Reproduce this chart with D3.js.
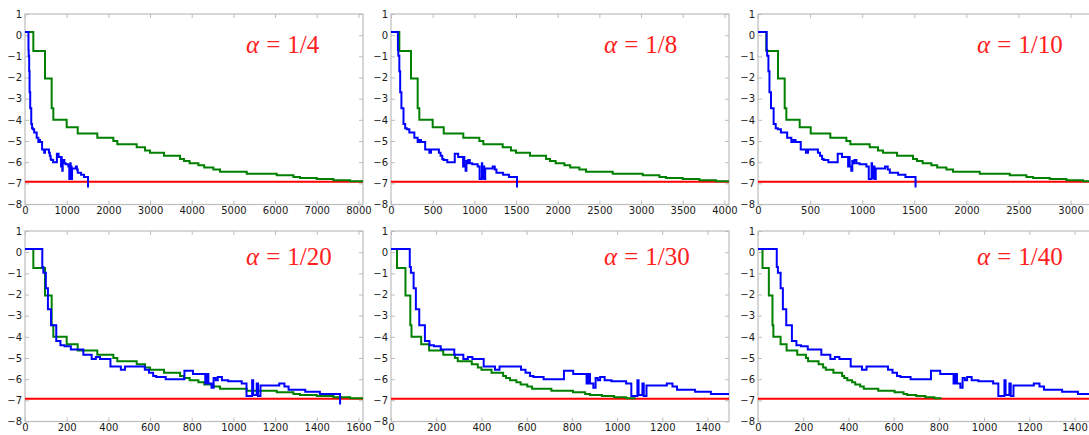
<!DOCTYPE html>
<html><head><meta charset="utf-8">
<script src="https://cdn.jsdelivr.net/npm/d3@7"></script>
<style>body{margin:0;background:#fff}svg{display:block}</style></head>
<body><svg id="c" width="1089" height="435"></svg>
<script>
// ---- data ----
const alphaLabels = ["1/4", "1/8", "1/10", "1/20", "1/30", "1/40"];
// green curve x-stretch per panel, relative to the alpha = 1/20 panel
const greenXScale = [5, 2.5, 2, 1, 2 / 3, 0.5];
const xMax = [8110, 4055, 3244, 1622, 1495, 1495];
const xTickStep = [1000, 500, 500, 200, 200, 200];
const yTickValues = [1, 0, -1, -2, -3, -4, -5, -6, -7, -8];
const targetLevel = [-6.93];

const blueX = [0, 83, 88, 100, 110, 125, 150, 170, 190, 220, 280, 320, 340, 360, 410, 460, 480, 575, 595, 615, 630, 675, 765, 806, 865, 872, 880, 895, 905, 915, 925, 945, 975, 1040, 1063, 1090, 1095, 1112, 1118, 1130, 1220, 1245, 1265, 1345, 1415, 1512];
const blueY = [0.15, -0.7, -0.97, -1.7, -2.7, -3.45, -4.2, -4.4, -4.45, -4.6, -4.85, -5.05, -4.95, -5.05, -5.4, -5.55, -5.4, -5.55, -5.7, -5.85, -5.9, -6.0, -5.6, -5.75, -6.2, -5.75, -6.2, -6.4, -5.95, -6.05, -5.9, -6.05, -6.1, -6.2, -6.8, -6.05, -6.75, -6.2, -6.8, -6.3, -6.2, -6.35, -6.5, -6.6, -6.7, -7.2];

const greenX = [0, 40, 96, 128, 136, 200, 253, 347, 424, 443, 536, 576, 600, 667, 744, 763, 790, 832, 860, 904, 936, 1064, 1208, 1288, 1320, 1400, 1480, 1560, 1622];
const greenY = [0.15, -0.75, -2.05, -3.45, -4.0, -4.35, -4.65, -4.85, -5.0, -5.15, -5.3, -5.45, -5.55, -5.7, -5.85, -5.95, -6.05, -6.15, -6.25, -6.35, -6.45, -6.55, -6.62, -6.7, -6.75, -6.8, -6.85, -6.9, -6.9];

// ---- layout ----
const colLeft = [25, 391, 758];
const rowTop = [14, 231];
const pw = 338, ph = 190.5;
const titleDx = [221, 213, 219];
const titleBase = [52.5, 264.5];

const svg = d3.select("#c");
const defs = svg.append("defs");
const frameColor = "#bdbdbd";
const tickFont = "'DejaVu Sans', sans-serif";

const blue = blueX.map((x, i) => [x, blueY[i]]);

alphaLabels.forEach((lab, p) => {
  const c = p % 3, r = Math.floor(p / 3);
  const x0 = colLeft[c], y0 = rowTop[r];
  const g = svg.append("g").attr("transform", `translate(${x0},${y0})`);
  const x = d3.scaleLinear().domain([0, xMax[p]]).range([0, pw]);
  const y = d3.scaleLinear().domain([-8, 1]).range([ph, 0]);

  const cid = "clip" + p;
  defs.append("clipPath").attr("id", cid).append("rect")
    .attr("x", 0).attr("y", -2).attr("width", pw).attr("height", ph + 4);

  g.append("rect").attr("x", 0).attr("y", 0).attr("width", pw).attr("height", ph)
    .attr("fill", "none").attr("stroke", frameColor).attr("stroke-width", 1.2);

  const xt = d3.range(0, xMax[p] + 1, xTickStep[p]);
  const fmt = v => (v < 0 ? "\u2212" + Math.abs(v) : String(v));

  const ax = g.append("g").attr("transform", `translate(0,${ph})`)
    .call(d3.axisBottom(x).tickValues(xt).tickSizeInner(-4).tickSizeOuter(0).tickPadding(2.5).tickFormat(fmt));
  const axT = g.append("g")
    .call(d3.axisTop(x).tickValues(xt).tickSizeInner(-4).tickSizeOuter(0).tickFormat(""));
  const ay = g.append("g")
    .call(d3.axisLeft(y).tickValues(yTickValues).tickSizeInner(-4).tickSizeOuter(0).tickPadding(3).tickFormat(fmt));
  const ayR = g.append("g").attr("transform", `translate(${pw},0)`)
    .call(d3.axisRight(y).tickValues(yTickValues).tickSizeInner(-4).tickSizeOuter(0).tickFormat(""));
  [ax, axT, ay, ayR].forEach(a => {
    a.select(".domain").remove();
    a.selectAll("line").attr("stroke", frameColor);
    a.selectAll("text").attr("fill", "#1a1a1a").style("font-family", tickFont).style("font-size", "10px");
  });

  const plot = g.append("g").attr("clip-path", `url(#${cid})`);
  const line = d3.line().x(d => x(d[0])).y(d => y(d[1])).curve(d3.curveStepAfter);

  plot.append("line").attr("x1", 0).attr("x2", pw)
    .attr("y1", y(targetLevel[0])).attr("y2", y(targetLevel[0]))
    .attr("stroke", "#ff0000").attr("stroke-width", 2);

  const green = greenX.map((gx, i) => [gx * greenXScale[p], greenY[i]]);
  plot.append("path").datum(green).attr("d", line)
    .attr("fill", "none").attr("stroke", "#008000").attr("stroke-width", 2);
  plot.append("path").datum(blue).attr("d", line)
    .attr("fill", "none").attr("stroke", "#0000ff").attr("stroke-width", 2);

  const t = svg.append("text").attr("x", x0 + titleDx[c]).attr("y", titleBase[r])
    .attr("fill", "#ff2020").style("font-family", "'Liberation Serif', serif").style("font-size", "25px");
  t.append("tspan").style("font-style", "italic").text("\u03b1");
  t.append("tspan").attr("dx", 7).text("=");
  t.append("tspan").attr("dx", 7).text(lab);
});
</script>
</body></html>
